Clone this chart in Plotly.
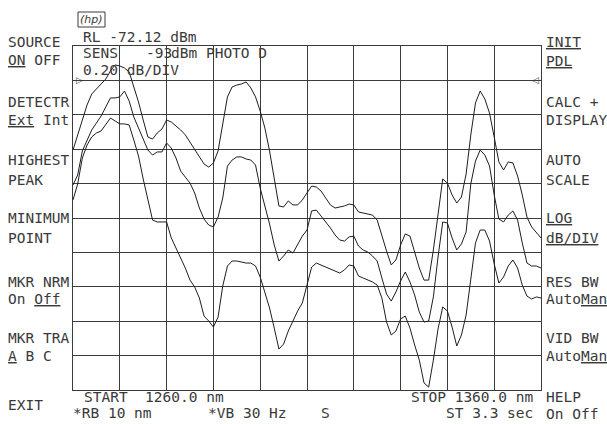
import plotly.graph_objects as go

wavelength_nm = [
    1260, 1261, 1262, 1263, 1264, 1265, 1266, 1267, 1268, 1269,
    1270, 1271, 1272, 1273, 1274, 1275, 1276, 1277, 1278, 1279,
    1280, 1281, 1282, 1283, 1284, 1285, 1286, 1287, 1288, 1289,
    1290, 1291, 1292, 1293, 1294, 1295, 1296, 1297, 1298, 1299,
    1300, 1301, 1302, 1303, 1304, 1305, 1306, 1307, 1308, 1309,
    1310, 1311, 1312, 1313, 1314, 1315, 1316, 1317, 1318, 1319,
    1320, 1321, 1322, 1323, 1324, 1325, 1326, 1327, 1328, 1329,
    1330, 1331, 1332, 1333, 1334, 1335, 1336, 1337, 1338, 1339,
    1340, 1341, 1342, 1343, 1344, 1345, 1346, 1347, 1348, 1349,
    1350, 1351, 1352, 1353, 1354, 1355, 1356, 1357, 1358, 1359,
    1360,
]

trace_a_dbm = [
    -72.725, -72.637, -72.550, -72.463, -72.399, -72.370, -72.341, -72.312, -72.265, -72.230,
    -72.236, -72.248, -72.271, -72.353, -72.446, -72.550, -72.649, -72.661, -72.626, -72.603,
    -72.550, -72.562, -72.585, -72.608, -72.637, -72.678, -72.719, -72.765, -72.806, -72.824,
    -72.800, -72.730, -72.573, -72.416, -72.358, -72.347, -72.341, -72.329, -72.364, -72.416,
    -72.498, -72.597, -72.730, -72.882, -73.050, -73.056, -73.021, -73.044, -73.044, -73.015,
    -72.975, -72.934, -72.940, -72.963, -73.004, -73.044, -73.062, -73.056, -73.050, -73.039,
    -73.044, -73.085, -73.091, -73.097, -73.103, -73.132, -73.225, -73.312, -73.393, -73.364,
    -73.277, -73.213, -73.225, -73.312, -73.411, -73.481, -73.481, -73.306, -73.103, -72.893,
    -72.917, -72.986, -73.033, -72.998, -72.864, -72.637, -72.451, -72.382, -72.428, -72.510,
    -72.649, -72.794, -72.841, -72.794, -72.800, -72.876, -72.986, -73.114, -73.172, -73.201,
    -73.236,
]

trace_b_dbm = [
    -72.928, -72.870, -72.730, -72.667, -72.608, -72.568, -72.527, -72.475, -72.422, -72.422,
    -72.416, -72.382, -72.440, -72.533, -72.597, -72.655, -72.725, -72.754, -72.736, -72.736,
    -72.684, -72.713, -72.771, -72.847, -72.882, -72.917, -72.975, -73.062, -73.126, -73.161,
    -73.172, -73.114, -73.004, -72.818, -72.783, -72.765, -72.765, -72.777, -72.783, -72.812,
    -72.946, -73.044, -73.155, -73.277, -73.370, -73.341, -73.306, -73.324, -73.271, -73.225,
    -73.190, -73.079, -73.074, -73.108, -73.149, -73.178, -73.219, -73.248, -73.254, -73.230,
    -73.225, -73.283, -73.306, -73.318, -73.341, -73.370, -73.469, -73.562, -73.603, -73.550,
    -73.486, -73.434, -73.492, -73.568, -73.667, -73.725, -73.719, -73.579, -73.347, -73.143,
    -73.149, -73.236, -73.306, -73.271, -73.201, -72.922, -72.789, -72.725, -72.754, -72.818,
    -72.986, -73.126, -73.143, -73.103, -73.079, -73.132, -73.265, -73.382, -73.399, -73.399,
    -73.411,
]

trace_c_dbm = [
    -73.015, -72.922, -72.771, -72.696, -72.649, -72.626, -72.614, -72.579, -72.539, -72.556,
    -72.573, -72.573, -72.579, -72.667, -72.760, -72.893, -73.010, -73.132, -73.143, -73.143,
    -73.143, -73.236, -73.294, -73.353, -73.411, -73.481, -73.521, -73.585, -73.690, -73.719,
    -73.754, -73.696, -73.515, -73.399, -73.370, -73.370, -73.376, -73.382, -73.382, -73.399,
    -73.463, -73.550, -73.643, -73.760, -73.882, -73.853, -73.777, -73.719, -73.661, -73.614,
    -73.510, -73.405, -73.382, -73.393, -73.405, -73.417, -73.428, -73.440, -73.422, -73.393,
    -73.399, -73.457, -73.469, -73.481, -73.492, -73.510, -73.585, -73.725, -73.800, -73.777,
    -73.707, -73.690, -73.760, -73.858, -73.946, -74.079, -74.103, -73.946, -73.765, -73.637,
    -73.661, -73.754, -73.864, -73.800, -73.684, -73.475, -73.265, -73.190, -73.190, -73.254,
    -73.387, -73.498, -73.463, -73.399, -73.364, -73.411, -73.510, -73.574, -73.591, -73.579,
    -73.585,
]

start_nm = 1260.0
stop_nm = 1360.0
ref_level_dbm = -72.12
scale_db_per_div = 0.20

left_keys = [("SOURCE", 42), ("<u>ON</u> OFF", 60), ("DETECTR", 102), ("<u>Ext</u> Int", 120),
             ("HIGHEST", 160), ("PEAK", 180), ("MINIMUM", 218), ("POINT", 238),
             ("MKR NRM", 282), ("On <u>Off</u>", 299), ("MKR TRA", 338), ("<u>A</u> B C", 356),
             ("EXIT", 405)]
right_keys = [("<u>INIT</u>", 42), ("<u>PDL</u>", 61), ("CALC +", 102), ("DISPLAY", 120),
              ("AUTO", 160), ("SCALE", 180), ("<u>LOG</u>", 218), ("<u>dB/DIV</u>", 238),
              ("RES BW", 282), ("Auto<u>Man</u>", 299), ("VID BW", 338), ("Auto<u>Man</u>", 356),
              ("HELP", 397), ("On Off", 414)]

# ---------------- figure ----------------
W, H = 607, 424
L, R, T, B = 73, 66, 46, 34
PW, PH = W - L - R, H - T - B

def px(x):
    return (x - L) / PW

def py(y):
    return (H - B - y) / PH

FONT = "DejaVu Sans Mono"
TXT = "#3a3a3a"
TRACE = "#1e1e1e"
GRID = "#3c3c3c"

fig = go.Figure()
for vals in (trace_a_dbm, trace_b_dbm, trace_c_dbm):
    fig.add_trace(go.Scatter(x=wavelength_nm, y=vals, mode="lines",
                             line=dict(color=TRACE, width=1), hoverinfo="skip",
                             showlegend=False))

bottom = ref_level_dbm - 10 * scale_db_per_div
fig.update_xaxes(range=[start_nm, stop_nm], dtick=10, tick0=start_nm, showgrid=True,
                 gridcolor=GRID, gridwidth=1, showline=True, linecolor=GRID, linewidth=1,
                 mirror=True, showticklabels=False, ticks="", zeroline=False, fixedrange=True)
fig.update_yaxes(range=[bottom, ref_level_dbm], dtick=scale_db_per_div, tick0=ref_level_dbm,
                 showgrid=True, gridcolor=GRID, gridwidth=1, showline=True, linecolor=GRID,
                 linewidth=1, mirror=True, showticklabels=False, ticks="", zeroline=False,
                 fixedrange=True)

ann = []

def txt(x, y, s, size=14.5, **kw):
    ann.append(dict(x=px(x), y=py(y), xref="paper", yref="paper", text=s, showarrow=False,
                    xanchor="left", yanchor="middle", borderpad=0,
                    font=dict(family=FONT, size=size, color=TXT), **kw))

for s, y in left_keys:
    txt(7, y, s)
for s, y in right_keys:
    txt(545, y, s)

txt(82, 37, "RL -72.12 dBm")
txt(82, 53, "SENS")
txt(145, 53, "-93")
txt(170, 53, "dBm PHOTO D")
txt(82, 70, "0.20 dB/DIV")
txt(83, 397, "START  1260.0 nm")
txt(72, 413, "*RB 10 nm")
txt(207, 413, "*VB 30 Hz")
txt(320, 413, "S")
txt(410, 397, "STOP 1360.0 nm")
txt(445, 413, "ST 3.3 sec")

# hp logo
ann.append(dict(x=px(91.5), y=py(19.5), xref="paper", yref="paper", text="<i>(hp)</i>",
                showarrow=False, xanchor="center", yanchor="middle",
                font=dict(family="DejaVu Sans", size=11, color=TXT)))
# reference-level markers
ann.append(dict(x=px(74), y=py(80), xref="paper", yref="paper", text="▷", showarrow=False,
                xanchor="left", yanchor="middle", font=dict(family="DejaVu Sans", size=9, color=TXT)))
ann.append(dict(x=px(541), y=py(80), xref="paper", yref="paper", text="◁", showarrow=False,
                xanchor="right", yanchor="middle", font=dict(family="DejaVu Sans", size=9, color=TXT)))

shapes = [dict(type="rect", xref="paper", yref="paper", x0=px(78), x1=px(105), y0=py(27), y1=py(12),
               line=dict(color=TXT, width=1))]

fig.update_layout(width=W, height=H, margin=dict(l=L, r=R, t=T, b=B, pad=0),
                  paper_bgcolor="white", plot_bgcolor="white",
                  annotations=ann, shapes=shapes, showlegend=False)

fig.write_html("out.html", config={"displayModeBar": False},
               post_script="document.body.style.margin='0';document.body.style.overflow='hidden';")
